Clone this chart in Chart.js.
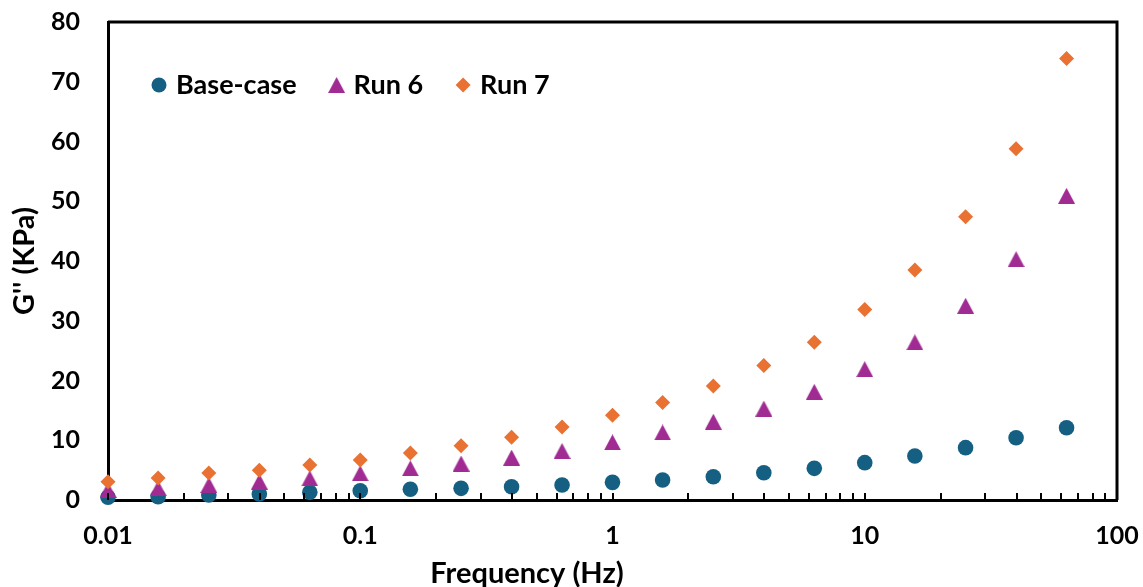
<!DOCTYPE html>
<html>
<head>
<meta charset="utf-8">
<script src="https://cdn.jsdelivr.net/npm/chart.js@4/dist/chart.umd.min.js"></script>
<style>
    html, body { margin: 0; padding: 0; background: #fff; }
    #wrap { width: 1143px; height: 587px; }
</style>
</head>
<body>
<div id="wrap"><canvas id="modulusChart" width="1143" height="587"></canvas></div>
<script>
// frequency sweep, loss modulus
const frequency = [0.01, 0.0158, 0.0251, 0.0398, 0.0631, 0.1, 0.158, 0.251, 0.398, 0.631,
    1, 1.58, 2.51, 3.98, 6.31, 10, 15.8, 25.1, 39.8, 63.1];
const baseCase = [0.45, 0.56, 0.84, 1.0, 1.28, 1.56, 1.79, 1.95, 2.23, 2.5,
    2.95, 3.35, 3.9, 4.57, 5.3, 6.25, 7.36, 8.76, 10.43, 12.1];
const run6 = [1.67, 1.95, 2.5, 3.07, 3.6, 4.46, 5.3, 6.1, 7.1, 8.2,
    9.65, 11.3, 13.1, 15.3, 18.1, 21.9, 26.4, 32.5, 40.3, 50.9];
const run7 = [3.07, 3.7, 4.5, 5.0, 5.86, 6.7, 7.86, 9.1, 10.5, 12.2,
    14.2, 16.3, 19.1, 22.5, 26.4, 31.9, 38.5, 47.4, 58.8, 73.9];
const yTicks = [0, 10, 20, 30, 40, 50, 60, 70, 80];
const xDecades = [0.01, 0.1, 1, 10, 100];

const FONT = 'Lato, "Liberation Sans", sans-serif';

// triangle marker centred on its bounding box (like the spreadsheet one)
function triangleMarker(color, w, h) {
    const c = document.createElement('canvas');
    c.width = w;
    c.height = h;
    const g = c.getContext('2d');
    g.fillStyle = color;
    g.beginPath();
    g.moveTo(w / 2, 0);
    g.lineTo(w, h);
    g.lineTo(0, h);
    g.closePath();
    g.fill();
    return c;
}

const toPoints = (ys) => ys.map((y, i) => ({ x: frequency[i], y: y }));

// minor ticks inside the frame + top/right border
const framePlugin = {
    id: 'frame',
    afterDatasetsDraw(chart) {
        const { ctx, chartArea: a, scales: { x } } = chart;
        ctx.save();
        ctx.strokeStyle = '#000';
        ctx.lineWidth = 2;
        ctx.beginPath();
        x.ticks.forEach(t => {
            const px = Math.round(x.getPixelForValue(t.value));
            ctx.moveTo(px, a.bottom);
            ctx.lineTo(px, a.bottom - 7);
        });
        ctx.stroke();
        ctx.lineWidth = 3;
        ctx.beginPath();
        ctx.moveTo(a.left, a.top);
        ctx.lineTo(a.right, a.top);
        ctx.lineTo(a.right, a.bottom);
        ctx.stroke();
        ctx.restore();
    }
};

// legend inside the plot + axis titles
const labelsPlugin = {
    id: 'labels',
    afterDraw(chart) {
        const { ctx, chartArea: a } = chart;
        ctx.save();
        ctx.fillStyle = '#000';
        ctx.font = 'bold 27px ' + FONT;
        ctx.textBaseline = 'middle';

        let cx = a.left + 51;
        const cy = 85;
        chart.data.datasets.forEach(ds => {
            const style = ds.legendStyle;
            ctx.fillStyle = ds.backgroundColor;
            Chart.helpers.drawPoint(ctx, { pointStyle: style.pointStyle, radius: style.radius, rotation: 0 }, cx, cy);
            ctx.fillStyle = '#000';
            ctx.textAlign = 'left';
            ctx.fillText(ds.label, cx + 17, cy);
            cx += 17 + ctx.measureText(ds.label).width + 40;
        });

        ctx.font = 'bold 29px ' + FONT;
        ctx.textAlign = 'center';
        ctx.fillText('Frequency (Hz)', 527, 574);

        ctx.translate(25, (a.top + a.bottom) / 2);
        ctx.rotate(-Math.PI / 2);
        ctx.fillText("G'' (KPa)", 0, 0);
        ctx.restore();
    }
};

const tri = triangleMarker('#A02B93', 17, 16);

new Chart(document.getElementById('modulusChart'), {
    type: 'scatter',
    data: {
        datasets: [
            {
                label: 'Base-case',
                data: toPoints(baseCase),
                backgroundColor: '#156082',
                borderWidth: 0,
                pointStyle: 'circle',
                pointRadius: 7.8,
                order: 3,
                clip: false,
                legendStyle: { pointStyle: 'circle', radius: 7.5 }
            },
            {
                label: 'Run 6',
                data: toPoints(run6),
                backgroundColor: '#A02B93',
                borderWidth: 0,
                pointStyle: tri,
                order: 2,
                clip: false,
                legendStyle: { pointStyle: tri, radius: 8 }
            },
            {
                label: 'Run 7',
                data: toPoints(run7),
                backgroundColor: '#E97132',
                borderWidth: 0,
                pointStyle: 'rectRot',
                pointRadius: 7.5,
                order: 1,
                clip: false,
                legendStyle: { pointStyle: 'rectRot', radius: 7.5 }
            }
        ]
    },
    options: {
        responsive: false,
        animation: false,
        events: [],
        layout: { padding: { top: 22, right: 26, left: 0, bottom: 0 } },
        plugins: {
            legend: { display: false },
            tooltip: { enabled: false }
        },
        scales: {
            x: {
                type: 'logarithmic',
                min: 0.01,
                max: 100,
                afterBuildTicks(scale) {
                    const ticks = [];
                    for (let d = 0.01; d < 100; d *= 10) {
                        for (let m = 1; m < 10; m++) {
                            ticks.push({ value: +(m * d).toPrecision(3) });
                        }
                    }
                    ticks.push({ value: 100 });
                    scale.ticks = ticks;
                },
                afterFit(scale) {
                    scale.height = 87;
                    scale.paddingLeft = 0;
                    scale.paddingRight = 0;
                },
                grid: { display: false },
                border: { display: true, color: '#000', width: 3 },
                ticks: {
                    autoSkip: false,
                    maxRotation: 0,
                    padding: 13,
                    color: '#000',
                    font: { family: FONT, size: 25, weight: 'bold' },
                    callback: (v) => xDecades.includes(v) ? String(v) : ''
                }
            },
            y: {
                min: 0,
                max: 80,
                afterBuildTicks(scale) {
                    scale.ticks = yTicks.map(v => ({ value: v }));
                },
                afterFit(scale) {
                    scale.width = 108;
                    scale.paddingTop = 0;
                    scale.paddingBottom = 0;
                },
                grid: { display: false, drawTicks: false },
                border: { display: true, color: '#000', width: 3 },
                ticks: {
                    padding: 28,
                    color: '#000',
                    font: { family: FONT, size: 25, weight: 'bold' }
                }
            }
        }
    },
    plugins: [framePlugin, labelsPlugin]
});
</script>
</body>
</html>
